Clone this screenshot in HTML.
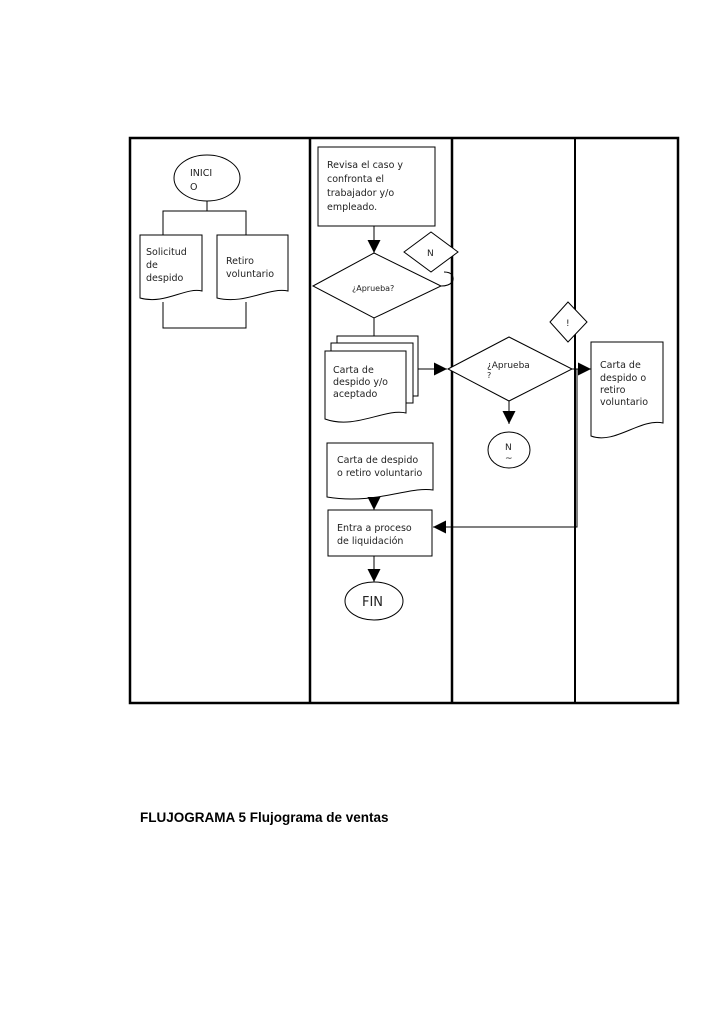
<!DOCTYPE html>
<html><head><meta charset="utf-8"><style>
html,body{margin:0;padding:0;background:#fff;}
svg{display:block;}
text{font-family:"DejaVu Sans","Liberation Sans",sans-serif;font-size:9.5px;fill:#222;}
</style></head><body>
<svg width="728" height="1030" viewBox="0 0 728 1030" xmlns="http://www.w3.org/2000/svg">
<defs>
<marker id="a" viewBox="0 0 10 10" refX="10" refY="5" markerWidth="13" markerHeight="13" markerUnits="userSpaceOnUse" orient="auto"><path d="M0,0 L10,5 L0,10 Z" fill="#000"/></marker>
</defs>
<g fill="none" stroke="#000">
<rect x="130" y="138" width="548" height="565" stroke-width="2.5"/>
<line x1="310" y1="138" x2="310" y2="703" stroke-width="2.5"/>
<line x1="452" y1="138" x2="452" y2="703" stroke-width="2.5"/>
<line x1="575" y1="138" x2="575" y2="703" stroke-width="2"/>
<g stroke-width="1">
<ellipse cx="207" cy="178" rx="33" ry="23" fill="#fff"/>
<line x1="207" y1="201" x2="207" y2="211"/>
<polyline points="163,235 163,211 246,211 246,235"/>
<path d="M140,235 H202 V291 C185,287 165,305 140,298 Z" fill="#fff"/>
<path d="M217,235 H288 V291 C268,287 245,305 217,298 Z" fill="#fff"/>
<polyline points="163,302 163,328 246,328 246,302"/>
<rect x="318" y="147" width="117" height="79" fill="#fff"/>
<line x1="374" y1="226" x2="374" y2="253" marker-end="url(#a)"/>
<polygon points="313,286 374,253 441,286 374,318" fill="#fff"/>
<polygon points="404,252 431,232 458,252 431,272" fill="#fff"/>
<path d="M441,286 C452,286 455,280 452,275 C450,272 446,272 444,272"/>
<line x1="374" y1="318" x2="374" y2="336"/>
<rect x="337" y="336" width="81" height="60" fill="#fff"/>
<rect x="331" y="343" width="82" height="60" fill="#fff"/>
<path d="M325,351 H406 V413 C385,408 355,430 325,419 Z" fill="#fff"/>
<line x1="418" y1="369" x2="447" y2="369" marker-end="url(#a)"/>
<polygon points="448,369 509,337 572,369 509,401" fill="#fff"/>
<polygon points="550,322 568,302 587,322 568,342" fill="#fff"/>
<line x1="572" y1="369" x2="591" y2="369" marker-end="url(#a)"/>
<path d="M591,342 H663 V423 C640,418 615,445 591,436 Z" fill="#fff"/>
<line x1="509" y1="401" x2="509" y2="424" marker-end="url(#a)"/>
<ellipse cx="509" cy="450" rx="21" ry="18" fill="#fff"/>
<polyline points="577,369 577,527 433,527" marker-end="url(#a)"/>
<path d="M327,443 H433 V490 C410,486 375,505 327,497 Z" fill="#fff"/>
<line x1="374" y1="497" x2="374" y2="510" marker-end="url(#a)"/>
<rect x="328" y="510" width="104" height="46" fill="#fff"/>
<line x1="374" y1="556" x2="374" y2="582" marker-end="url(#a)"/>
<ellipse cx="374" cy="601" rx="29" ry="19" fill="#fff"/>
</g>
</g>
<text x="190" y="176">INICI</text>
<text x="190" y="190">O</text>
<text x="146" y="255">Solicitud</text>
<text x="146" y="268">de</text>
<text x="146" y="281">despido</text>
<text x="226" y="264">Retiro</text>
<text x="226" y="277">voluntario</text>
<text x="327" y="168">Revisa el caso y</text>
<text x="327" y="182">confronta el</text>
<text x="327" y="196">trabajador y/o</text>
<text x="327" y="210">empleado.</text>
<text x="352" y="291" style="font-size:8px">¿Aprueba?</text>
<text x="427" y="256" style="font-size:9px">N</text>
<text x="566" y="326" style="font-size:9px">!</text>
<text x="333" y="373">Carta de</text>
<text x="333" y="385">despido y/o</text>
<text x="333" y="397">aceptado</text>
<text x="487" y="368" style="font-size:9px">¿Aprueba</text>
<text x="487" y="378" style="font-size:8px">?</text>
<text x="600" y="368">Carta de</text>
<text x="600" y="381">despido o</text>
<text x="600" y="393">retiro</text>
<text x="600" y="405">voluntario</text>
<text x="505" y="450" style="font-size:9px">N</text>
<text x="505" y="461" style="font-size:9px">~</text>
<text x="337" y="463">Carta de despido</text>
<text x="337" y="476">o retiro voluntario</text>
<text x="337" y="531">Entra a proceso</text>
<text x="337" y="544">de liquidación</text>
<text x="362" y="606" style="font-size:13px">FIN</text>
<text x="140" y="822" style="font-family:'Liberation Sans',sans-serif;font-size:13.5px;font-weight:bold;fill:#000">FLUJOGRAMA 5 Flujograma de ventas</text>
</svg>
</body></html>
